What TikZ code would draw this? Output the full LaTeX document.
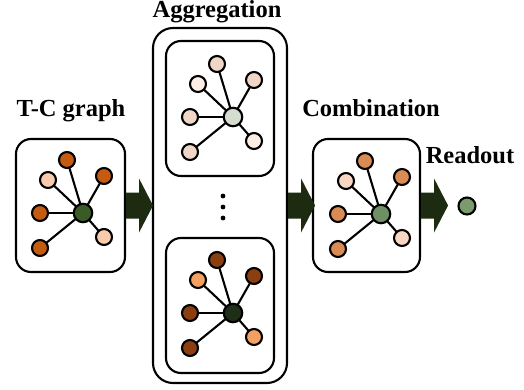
\documentclass[tikz,border=0pt]{standalone}
\usepackage{fontspec}
\setmainfont{Liberation Serif}
\definecolor{tcDark}{HTML}{C55A11}
\definecolor{tcLight}{HTML}{F8CBAD}
\definecolor{tcHub}{HTML}{3A5B26}
\definecolor{atDark}{HTML}{F0D6C6}
\definecolor{atLight}{HTML}{FCEEE4}
\definecolor{atHub}{HTML}{D5DDD0}
\definecolor{abDark}{HTML}{8B3E10}
\definecolor{abLight}{HTML}{F4A060}
\definecolor{abHub}{HTML}{1E2E17}
\definecolor{cbDark}{HTML}{D98B54}
\definecolor{cbLight}{HTML}{F9D6C2}
\definecolor{cbHub}{HTML}{6F8F64}
\definecolor{roHub}{HTML}{7B9B6F}
\definecolor{arrowFill}{HTML}{1D2B11}
\newcommand\tcstar[6]{%
  \begin{scope}[shift={(#2,#3)}]
    \node[hub, fill=#6] (#1hub) at (0,0) {};
    \node[leaf, fill=#4] (#1la) at (-16,-53) {};
    \node[leaf, fill=#5] (#1lb) at (-35,-33) {};
    \node[leaf, fill=#4] (#1ld) at (21,-37) {};
    \node[leaf, fill=#4] (#1le) at (-43,0) {};
    \node[leaf, fill=#5] (#1lf) at (21,24) {};
    \node[leaf, fill=#4] (#1lg) at (-43,35) {};
    \begin{scope}[on background layer]
      \foreach \k in {a,b,d,e,f,g} {\draw[edge] (#1hub.center) -- (#1l\k.center);}
    \end{scope}
  \end{scope}}
\newcommand\blockarrow[1]{%
  \fill[arrowFill] (#1) ++(0,-13) -- ++(13,0) -- ++(0,-14) -- ++(14,27)
    -- ++(-14,27) -- ++(0,-14) -- ++(-13,0) -- cycle;}
\usetikzlibrary{backgrounds}
\begin{document}
\begin{tikzpicture}[x=1pt,y=-1pt,
  leaf/.style={circle, draw=black, line width=2.1pt, minimum size=16pt, inner sep=0pt},
  hub/.style={circle, draw=black, line width=2.1pt, minimum size=18.5pt, inner sep=0pt},
  edge/.style={draw=black, line width=2.1pt},
  panel/.style={draw=black, line width=2.1pt, rounded corners=15pt, inner sep=0pt},
  title/.style={font=\fontsize{24.5}{28}\selectfont\bfseries, anchor=base, inner sep=0pt}]
\useasboundingbox (0,0) rectangle (524,390);
% panels
\node[panel, minimum width=109pt, minimum height=133pt] (pTC) at (70.5,205.5) {};
\node[panel, rounded corners=20pt, minimum width=134pt, minimum height=355pt] (pAgg) at (220,205.5) {};
\node[panel, minimum width=108pt, minimum height=135pt] (pAggTop) at (220,108.5) {};
\node[panel, minimum width=108pt, minimum height=135pt] (pAggBot) at (220,305.5) {};
\node[panel, minimum width=107pt, minimum height=133pt] (pComb) at (366.5,205.5) {};
% titles
\node[title] (ttc) at (71,117) {T-C graph};
\node[title] (tagg) at (217,18) {Aggregation};
\node[title] (tcomb) at (371,117) {Combination};
\node[title] (tro) at (470,164) {Readout};
% graphs
\tcstar{g}{83}{213}{tcDark}{tcLight}{tcHub}
\tcstar{t}{233}{117}{atDark}{atLight}{atHub}
\tcstar{b}{233}{313}{abDark}{abLight}{abHub}
\tcstar{m}{381}{214}{cbDark}{cbLight}{cbHub}
% dots
\foreach \yy [count=\i] in {196,207,218} {\fill (223,\yy) circle (2.4pt) coordinate (dot\i);}
% readout
\node[leaf, minimum size=17pt, fill=roHub] (ro) at (467,206) {};
% arrows
\blockarrow{pTC.east}
\blockarrow{pAgg.east}
\blockarrow{pComb.east}
\end{tikzpicture}
\end{document}
